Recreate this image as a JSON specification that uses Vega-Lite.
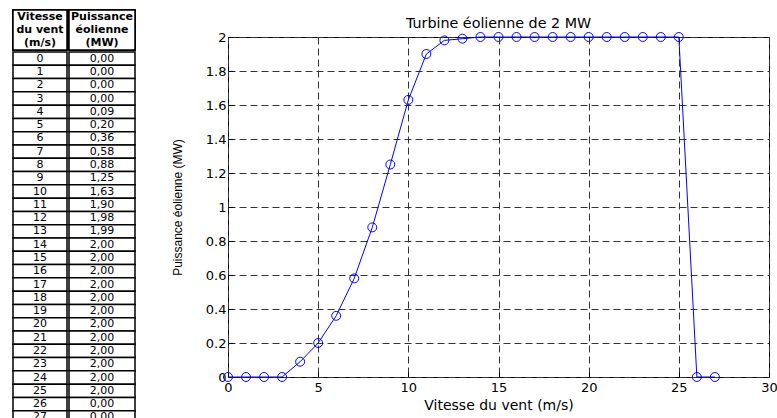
{
  "$schema": "https://vega.github.io/schema/vega-lite/v6.json",
  "background": "white",
  "padding": {"left": 12, "top": 9, "right": 0, "bottom": 0},
  "config": {"view": {"stroke": null}, "font": "DejaVu Sans"},
  "datasets": {
    "wind": [
      {"v": 0, "p": 0}, {"v": 1, "p": 0}, {"v": 2, "p": 0}, {"v": 3, "p": 0},
      {"v": 4, "p": 0.09}, {"v": 5, "p": 0.2}, {"v": 6, "p": 0.36}, {"v": 7, "p": 0.58},
      {"v": 8, "p": 0.88}, {"v": 9, "p": 1.25}, {"v": 10, "p": 1.63}, {"v": 11, "p": 1.9},
      {"v": 12, "p": 1.98}, {"v": 13, "p": 1.99}, {"v": 14, "p": 2}, {"v": 15, "p": 2},
      {"v": 16, "p": 2}, {"v": 17, "p": 2}, {"v": 18, "p": 2}, {"v": 19, "p": 2},
      {"v": 20, "p": 2}, {"v": 21, "p": 2}, {"v": 22, "p": 2}, {"v": 23, "p": 2},
      {"v": 24, "p": 2}, {"v": 25, "p": 2}, {"v": 26, "p": 0}, {"v": 27, "p": 0}
    ]
  },
  "spacing": 34,
  "hconcat": [
    {
      "spacing": 0,
      "hconcat": [
        {
          "spacing": 0,
          "vconcat": [
            {
              "width": 54, "height": 40,
              "data": {"values": [{"line": 1, "t": "Vitesse"}, {"line": 2, "t": "du vent"}, {"line": 3, "t": "(m/s)"}]},
              "layer": [
                {"mark": {"type": "rect", "fill": "white", "stroke": "black", "strokeWidth": 1.5}, "encoding": {}},
                {"mark": {"type": "text", "fontWeight": "bold", "fontSize": 11, "baseline": "middle", "color": "black"},
                 "encoding": {
                   "y": {"field": "line", "type": "ordinal", "scale": {"paddingInner": 0, "paddingOuter": 0}, "axis": null},
                   "text": {"field": "t", "type": "nominal"}}}
              ]
            },
            {
              "width": 54, "height": 372,
              "data": {"name": "wind"},
              "encoding": {"y": {"field": "v", "type": "ordinal", "scale": {"paddingInner": 0, "paddingOuter": 0}, "axis": null}},
              "layer": [
                {"mark": {"type": "rect", "fill": "white", "stroke": "black", "strokeWidth": 1.5}},
                {"mark": {"type": "text", "fontSize": 11, "color": "black", "baseline": "middle"},
                 "encoding": {"text": {"field": "v", "type": "nominal"}}}
              ]
            }
          ]
        },
        {
          "spacing": 0,
          "vconcat": [
            {
              "width": 66, "height": 40,
              "data": {"values": [{"line": 1, "t": "Puissance"}, {"line": 2, "t": "éolienne"}, {"line": 3, "t": "(MW)"}]},
              "layer": [
                {"mark": {"type": "rect", "fill": "white", "stroke": "black", "strokeWidth": 1.5}, "encoding": {}},
                {"mark": {"type": "text", "fontWeight": "bold", "fontSize": 11, "baseline": "middle", "color": "black"},
                 "encoding": {
                   "y": {"field": "line", "type": "ordinal", "scale": {"paddingInner": 0, "paddingOuter": 0}, "axis": null},
                   "text": {"field": "t", "type": "nominal"}}}
              ]
            },
            {
              "width": 66, "height": 372,
              "data": {"name": "wind"},
              "transform": [{"calculate": "replace(format(datum.p, '.2f'), '.', ',')", "as": "p_txt"}],
              "encoding": {"y": {"field": "v", "type": "ordinal", "scale": {"paddingInner": 0, "paddingOuter": 0}, "axis": null}},
              "layer": [
                {"mark": {"type": "rect", "fill": "white", "stroke": "black", "strokeWidth": 1.5}},
                {"mark": {"type": "text", "fontSize": 11, "color": "black", "baseline": "middle"},
                 "encoding": {"text": {"field": "p_txt", "type": "nominal"}}}
              ]
            }
          ]
        }
      ]
    },
    {
      "spacing": -2,
      "vconcat": [
        {
          "width": 541, "height": 16,
          "data": {"values": [{"t": "Turbine éolienne de 2 MW"}]},
          "mark": {"type": "text", "fontSize": 14.3, "color": "black", "baseline": "middle", "font": "DejaVu Sans", "dy": 6},
          "encoding": {"text": {"field": "t", "type": "nominal"}}
        },
        {
          "width": 541, "height": 340,
          "view": {"stroke": "black", "strokeWidth": 1},
          "data": {"name": "wind"},
          "encoding": {
            "x": {"field": "v", "type": "quantitative",
              "scale": {"domain": [0, 30], "nice": false, "zero": false},
              "axis": {"title": "Vitesse du vent (m/s)", "values": [0, 5, 10, 15, 20, 25, 30],
                "grid": true, "gridDash": [7, 4], "gridColor": "#333", "gridOpacity": 1, "gridWidth": 1,
                "domain": false, "ticks": true, "tickSize": -5, "tickColor": "black",
                "labelFontSize": 13, "labelColor": "black", "labelPadding": 9, "labelFlush": false,
                "titleFontSize": 14, "titleFontWeight": "normal", "titleColor": "black", "titlePadding": 4}},
            "y": {"field": "p", "type": "quantitative",
              "scale": {"domain": [0, 2], "nice": false, "zero": false},
              "axis": {"title": "Puissance éolienne (MW)", "values": [0, 0.2, 0.4, 0.6, 0.8, 1, 1.2, 1.4, 1.6, 1.8, 2], "format": "~g",
                "grid": true, "gridDash": [7, 4], "gridColor": "#333", "gridOpacity": 1, "gridWidth": 1,
                "domain": false, "ticks": true, "tickSize": -5, "tickColor": "black",
                "labelFontSize": 13, "labelColor": "black", "labelPadding": 7, "labelFlush": false,
                "titleFontSize": 12, "titleFont": "Liberation Sans", "titleFontWeight": "normal", "titleColor": "black", "titlePadding": 21}}
          },
          "layer": [
            {"mark": {"type": "line", "color": "#0000ff", "strokeWidth": 1}},
            {"mark": {"type": "point", "shape": "circle", "filled": false, "color": "#0000ff", "size": 80, "strokeWidth": 1, "opacity": 1}}
          ]
        }
      ]
    }
  ]
}
